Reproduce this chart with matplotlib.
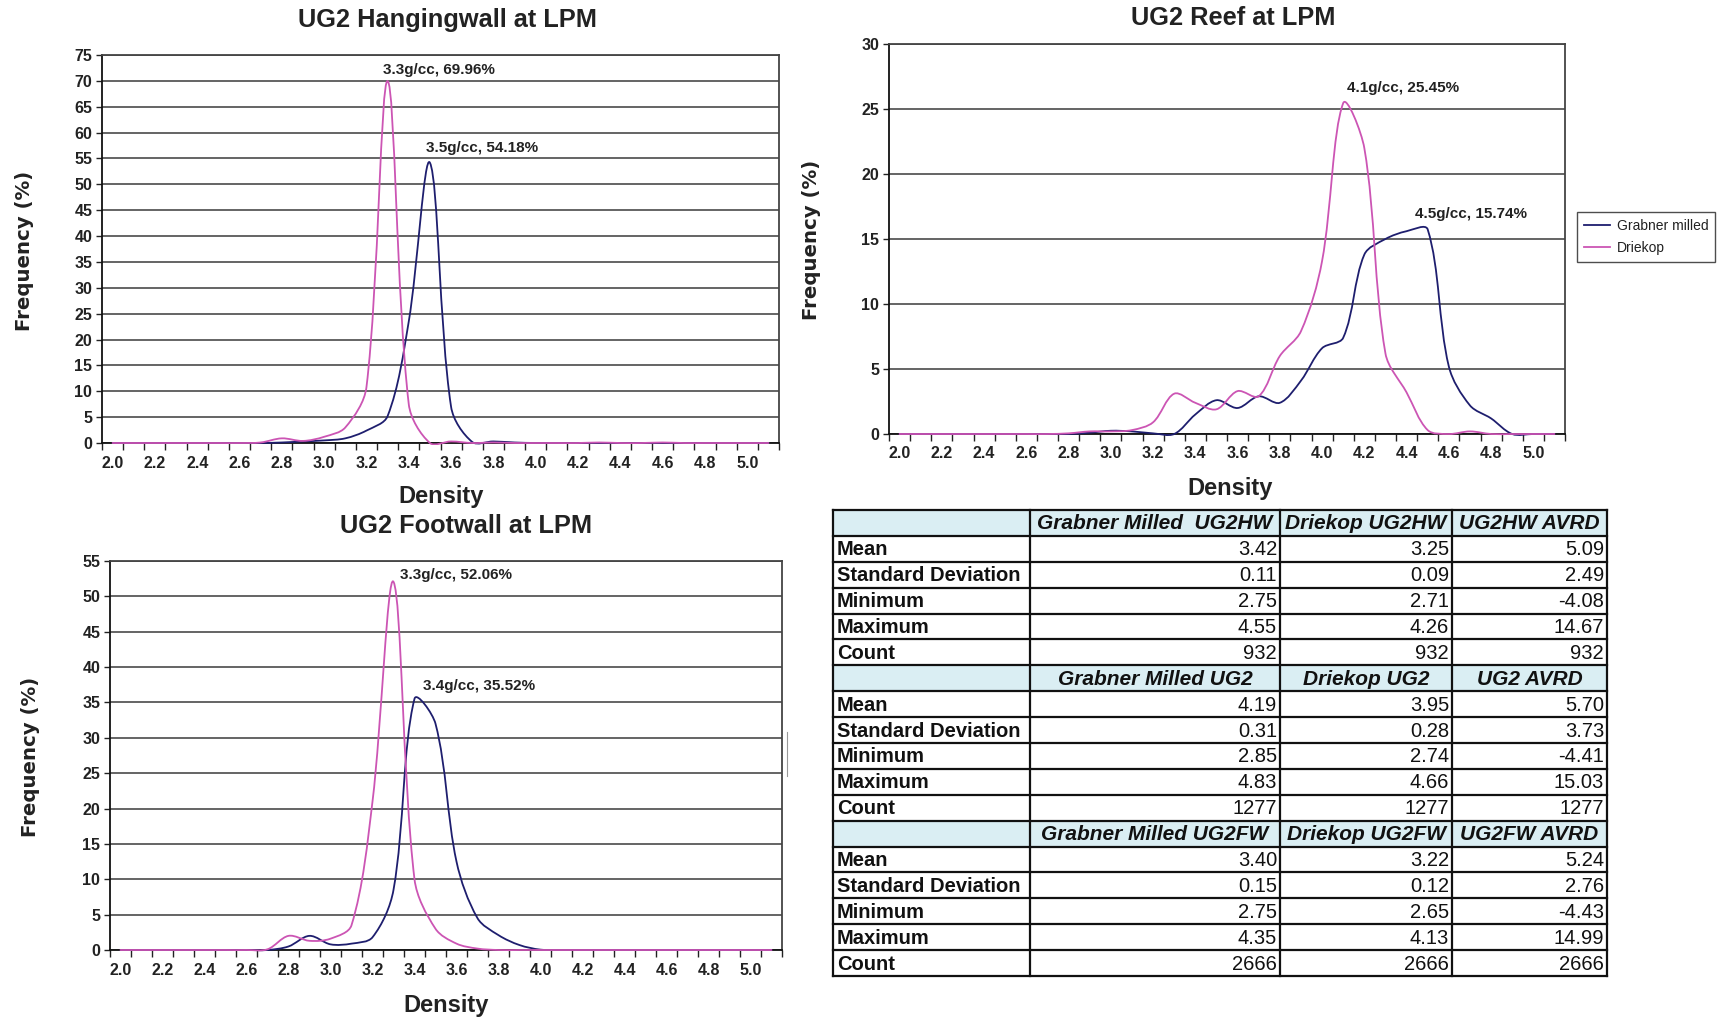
import matplotlib
matplotlib.use('Agg')
import matplotlib.pyplot as plt
from matplotlib.path import Path
from matplotlib.patches import PathPatch, Rectangle
from matplotlib.lines import Line2D
import numpy as np

plt.rcParams['font.family'] = ['Liberation Sans', 'DejaVu Sans']

# ---------------- data ----------------
density = [2.0, 2.1, 2.2, 2.3, 2.4, 2.5, 2.6, 2.7, 2.8, 2.9,
           3.0, 3.1, 3.2, 3.3, 3.4, 3.5, 3.6, 3.7, 3.8, 3.9,
           4.0, 4.1, 4.2, 4.3, 4.4, 4.5, 4.6, 4.7, 4.8, 4.9,
           5.0, 5.1]
tick_labels = ["2.0", "2.2", "2.4", "2.6", "2.8", "3.0", "3.2", "3.4",
               "3.6", "3.8", "4.0", "4.2", "4.4", "4.6", "4.8", "5.0"]
series_names = ["Grabner milled", "Driekop"]

# UG2 Hangingwall
hw_grabner = [0, 0, 0, 0, 0, 0, 0, 0, 0.1, 0.3,
              0.5, 0.9, 2.4, 5.2, 23.5, 54.18, 7.0, 0.2, 0.3, 0.1,
              0, 0, 0, 0, 0, 0, 0, 0, 0, 0,
              0, 0]
hw_driekop = [0, 0, 0, 0, 0, 0, 0, 0.1, 0.9, 0.4,
              1.2, 3.0, 10.8, 69.96, 7.5, 0.0, 0.3, 0.0, 0.1, 0,
              0, 0, 0, 0.1, 0, 0, 0.1, 0, 0, 0,
              0, 0]
# UG2 Reef
reef_grabner = [0, 0, 0, 0, 0, 0, 0, 0, 0, 0.1,
                0.25, 0.2, 0.05, 0.0, 1.5, 2.6, 2.0, 2.9, 2.4, 4.1,
                6.6, 7.4, 13.8, 15.0, 15.6, 15.74, 5.2, 2.2, 1.2, 0,
                0, 0]
reef_driekop = [0, 0, 0, 0, 0, 0, 0, 0, 0.05, 0.2,
                0.2, 0.3, 0.9, 3.1, 2.4, 1.9, 3.3, 2.9, 6.0, 7.9,
                13.3, 25.45, 22.0, 6.2, 3.2, 0.3, 0.0, 0.2, 0.0, 0,
                0, 0]
# UG2 Footwall
fw_grabner = [0, 0, 0, 0, 0, 0, 0, 0, 0.5, 2.0,
              0.8, 0.9, 1.8, 8.5, 35.52, 32.0, 12.5, 4.5, 2.1, 0.7,
              0.05, 0, 0, 0, 0, 0, 0, 0, 0, 0,
              0, 0]
fw_driekop = [0, 0, 0, 0, 0, 0, 0, 0.1, 2.0, 1.3,
              1.6, 3.5, 21.0, 52.06, 10.0, 3.0, 0.9, 0.2, 0.0, 0,
              0, 0, 0, 0, 0, 0, 0, 0, 0, 0,
              0, 0]

peak_labels_hw = [("3.3g/cc, 69.96%", 3.3, 69.96), ("3.5g/cc, 54.18%", 3.5, 54.18)]
peak_labels_reef = [("4.1g/cc, 25.45%", 4.1, 25.45), ("4.5g/cc, 15.74%", 4.5, 15.74)]
peak_labels_fw = [("3.3g/cc, 52.06%", 3.3, 52.06), ("3.4g/cc, 35.52%", 3.4, 35.52)]

row_names = ["Mean", "Standard Deviation", "Minimum", "Maximum", "Count"]
hdr_hw = ["Grabner Milled  UG2HW", "Driekop UG2HW", "UG2HW AVRD"]
hdr_ug2 = ["Grabner Milled UG2", "Driekop UG2", "UG2 AVRD"]
hdr_fw = ["Grabner Milled UG2FW", "Driekop UG2FW", "UG2FW AVRD"]
vals_hw = [["3.42", "3.25", "5.09"], ["0.11", "0.09", "2.49"], ["2.75", "2.71", "-4.08"],
           ["4.55", "4.26", "14.67"], ["932", "932", "932"]]
vals_ug2 = [["4.19", "3.95", "5.70"], ["0.31", "0.28", "3.73"], ["2.85", "2.74", "-4.41"],
            ["4.83", "4.66", "15.03"], ["1277", "1277", "1277"]]
vals_fw = [["3.40", "3.22", "5.24"], ["0.15", "0.12", "2.76"], ["2.75", "2.65", "-4.43"],
           ["4.35", "4.13", "14.99"], ["2666", "2666", "2666"]]

# ---------------- style ----------------
NAVY = '#1e1e6e'
MAG = '#cc55b4'
TXT = '#222222'
W, H = 1726, 1022
TICK_FS = 11.5

fig = plt.figure(figsize=(W / 100, H / 100), dpi=100)
fig.patch.set_facecolor('white')


def px_axes(left, top, right, bottom):
    return fig.add_axes([left / W, 1 - bottom / H, (right - left) / W, (bottom - top) / H])


def smooth_path(ax, xs, ys):
    """Excel-like smoothed line: Bezier segments with chord-weighted tangents (in pixel space)."""
    x0, x1 = ax.get_xlim()
    y0, y1 = ax.get_ylim()
    pos = ax.get_position()
    sx = pos.width * W / (x1 - x0)
    sy = pos.height * H / (y1 - y0)
    P = np.column_stack([np.asarray(xs, float) * sx, np.asarray(ys, float) * sy])
    n = len(P)
    d = np.hypot(*np.diff(P, axis=0).T)
    T = np.zeros_like(P)
    T[1:-1] = P[2:] - P[:-2]
    T[0] = P[1] - P[0]
    T[-1] = P[-1] - P[-2]
    verts = [P[0]]
    codes = [Path.MOVETO]
    for i in range(n - 1):
        dprev = d[i - 1] if i > 0 else d[i]
        dnext = d[i + 1] if i + 1 < n - 1 else d[i]
        c1 = P[i] + T[i] * (d[i] / (dprev + d[i])) / 3.0
        c2 = P[i + 1] - T[i + 1] * (d[i] / (d[i] + dnext)) / 3.0
        verts += [c1, c2, P[i + 1]]
        codes += [Path.CURVE4] * 3
    V = np.array(verts)
    V[:, 0] /= sx
    V[:, 1] /= sy
    return Path(V, codes)


def setup(ax, ymax):
    ax.set_xlim(density[0] - 0.05, density[-1] + 0.05)
    ax.set_ylim(0, ymax)
    bounds = [d - 0.05 for d in density] + [density[-1] + 0.05]
    ax.set_xticks(bounds, minor=True)
    ax.set_xticks(density[::2][:len(tick_labels)])
    ax.set_xticklabels(tick_labels, fontsize=TICK_FS, fontweight='bold', color=TXT)
    ax.tick_params(axis='x', which='major', length=0, pad=9)
    ax.tick_params(axis='x', which='minor', length=5, width=1.0, direction='out', color='#222')
    yt = list(range(0, ymax + 1, 5))
    ax.set_yticks(yt)
    ax.set_yticklabels([str(v) for v in yt], fontsize=TICK_FS, fontweight='bold', color=TXT)
    ax.tick_params(axis='y', length=4, width=1.0, pad=3, color='#222')
    ax.yaxis.grid(True, color='#3a3a3a', lw=1.1)
    ax.set_axisbelow(True)
    for s in ['left', 'bottom']:
        ax.spines[s].set_color('#111')
        ax.spines[s].set_linewidth(1.3)
    for s in ['top', 'right']:
        ax.spines[s].set_color('#444')
        ax.spines[s].set_linewidth(1.3)


def draw(ax, g, d, labels, offsets):
    clip = Rectangle((0, -0.006), 1, 1.012, transform=ax.transAxes, visible=False)
    ax.add_patch(clip)
    for ys, col in [(g, NAVY), (d, MAG)]:
        p = PathPatch(smooth_path(ax, density, ys), fill=False, edgecolor=col,
                      lw=1.3, zorder=3, capstyle='round', joinstyle='round')
        ax.add_patch(p)
        p.set_clip_path(clip)
    for (txt, x, y), (dx, dy) in zip(labels, offsets):
        ax.text(x + dx, y + dy, txt, ha='left', va='center', fontsize=11,
                fontweight='bold', color=TXT)


# Top-left
ax1 = px_axes(102, 55, 779, 443)
setup(ax1, 75)
draw(ax1, hw_grabner, hw_driekop, peak_labels_hw, [(-0.02, 2.2), (-0.02, 2.8)])
# Top-right
ax2 = px_axes(889, 44, 1565, 434)
setup(ax2, 30)
draw(ax2, reef_grabner, reef_driekop, peak_labels_reef, [(0.02, 1.2), (-0.06, 1.2)])
# Bottom-left
ax3 = px_axes(110, 561, 782, 950)
setup(ax3, 55)
draw(ax3, fw_grabner, fw_driekop, peak_labels_fw, [(0.03, 1.0), (0.04, 1.8)])

# Titles and axis labels
for (x, y, t) in [(447, 20, "UG2 Hangingwall at LPM"), (1233, 18, "UG2 Reef at LPM"),
                  (466, 526, "UG2 Footwall at LPM")]:
    fig.text(x / W, 1 - y / H, t, ha='center', va='center', fontsize=18.3, fontweight='bold', color=TXT)
for (x, y) in [(441, 497), (1230, 488), (446, 1005)]:
    fig.text(x / W, 1 - y / H, "Density", ha='center', va='center', fontsize=17, fontweight='bold', color=TXT)
for (x, y) in [(24, 251), (811, 240), (31, 757)]:
    fig.text(x / W, 1 - y / H, "Frequency (%)", ha='center', va='center', rotation=90,
             fontsize=14.2, fontweight='bold', family='DejaVu Sans', color=TXT)

# Legend
handles = [Line2D([], [], color=NAVY, lw=1.3), Line2D([], [], color=MAG, lw=1.3)]
leg = fig.legend(handles, series_names, loc='upper left', bbox_to_anchor=(1577 / W, 1 - 212 / H),
                 frameon=True, fancybox=False, edgecolor='#222', fontsize=10, handlelength=1.9,
                 borderpad=0.5, labelspacing=0.55, handletextpad=0.45, borderaxespad=0)
leg.get_frame().set_linewidth(1.0)
for t in leg.get_texts():
    t.set_color(TXT)

# Small stray line in the reference
fig.add_artist(Line2D([787 / W, 787 / W], [1 - 732 / H, 1 - 776 / H], color='#999', lw=0.8))

# Table
tab = fig.add_axes([0, 0, 1, 1])
tab.set_xlim(0, W)
tab.set_ylim(H, 0)
tab.axis('off')
cols = [833, 1030, 1280, 1452, 1607]
top, bot = 510, 976
nrows = 18
rh = (bot - top) / nrows
blocks = [(hdr_hw, vals_hw), (hdr_ug2, vals_ug2), (hdr_fw, vals_fw)]
r = 0
for hdr, vals in blocks:
    y0 = top + r * rh
    tab.add_patch(Rectangle((cols[0], y0), cols[-1] - cols[0], rh, facecolor='#daeef3',
                            edgecolor='none', zorder=1))
    for j, h in enumerate(hdr):
        cx = (cols[j + 1] + cols[j + 2]) / 2
        tab.text(cx, y0 + rh / 2 + 1, h, ha='center', va='center', fontsize=15,
                 fontweight='bold', style='italic', color='#111', zorder=3)
    r += 1
    for name, row in zip(row_names, vals):
        y0 = top + r * rh
        tab.text(cols[0] + 4, y0 + rh / 2 + 1, name, ha='left', va='center', fontsize=14.5,
                 fontweight='bold', color='#111', zorder=3)
        for j, v in enumerate(row):
            tab.text(cols[j + 2] - 3, y0 + rh / 2 + 1, v, ha='right', va='center', fontsize=14.5,
                     color='#111', zorder=3)
        r += 1
for i in range(nrows + 1):
    y = top + i * rh
    tab.plot([cols[0], cols[-1]], [y, y], color='#111', lw=1.6, zorder=4, solid_capstyle='projecting')
for x in cols:
    tab.plot([x, x], [top, bot], color='#111', lw=1.6, zorder=4, solid_capstyle='projecting')

fig.savefig('out.png', dpi=100, facecolor='white')
